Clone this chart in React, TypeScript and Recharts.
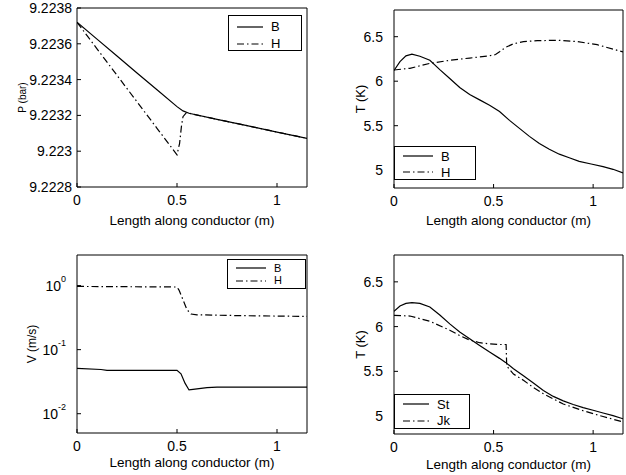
import React from "react";
import { LineChart, Line, XAxis, YAxis } from "recharts";

const FONT = '"Liberation Sans", Arial, Helvetica, sans-serif';
const DASHDOT = "7 3 1.5 3";

// shared x axis
const xTicks = [0, 0.5, 1];
const xDomain = [0, 1.15];

// top-left: pressure (bar)
const pTicks = [9.2228, 9.223, 9.2232, 9.2234, 9.2236, 9.2238];
const pBx = [0, 0.1, 0.2, 0.3, 0.4, 0.5, 0.53, 0.56, 0.7, 0.85, 1.0, 1.15];
const pB = [9.22372, 9.223626, 9.223532, 9.223437, 9.223343, 9.223249, 9.223225, 9.223212, 9.223178, 9.223143, 9.223107, 9.223072];
const pHx = [0, 0.1, 0.2, 0.3, 0.4, 0.5, 0.513, 0.522, 0.53, 0.547, 0.56, 0.7, 0.85, 1.0, 1.15];
const pH = [9.22372, 9.223572, 9.223424, 9.223276, 9.223128, 9.22298, 9.223044, 9.223137, 9.223193, 9.223215, 9.223212, 9.223178, 9.223143, 9.223107, 9.223072];

// top-right: temperature B / H
const tTicks = [5, 5.5, 6, 6.5];
const tBx = [0, 0.03, 0.06, 0.09, 0.13, 0.18, 0.23, 0.28, 0.33, 0.38, 0.43, 0.48, 0.53, 0.58, 0.63, 0.68, 0.73, 0.78, 0.83, 0.88, 0.93, 0.99, 1.05, 1.1, 1.15];
const tB = [6.12, 6.22, 6.285, 6.305, 6.28, 6.235, 6.13, 6.03, 5.93, 5.85, 5.79, 5.73, 5.66, 5.56, 5.47, 5.38, 5.3, 5.235, 5.18, 5.14, 5.1, 5.07, 5.04, 5.01, 4.97];
const tHx = [0, 0.08, 0.18, 0.28, 0.38, 0.48, 0.51, 0.53, 0.56, 0.6, 0.65, 0.72, 0.82, 0.92, 1.02, 1.1, 1.15];
const tH = [6.126, 6.145, 6.2, 6.235, 6.26, 6.285, 6.3, 6.33, 6.38, 6.42, 6.445, 6.455, 6.46, 6.445, 6.41, 6.36, 6.33];

// bottom-left: velocity (log)
const vTicks = [0.01, 0.1, 1];
const vBx = [0, 0.12, 0.15, 0.5, 0.52, 0.54, 0.56, 0.58, 0.65, 0.7, 1.15];
const vB = [0.051, 0.049, 0.0475, 0.0475, 0.042, 0.03, 0.0235, 0.024, 0.0255, 0.026, 0.026];
const vHx = [0, 0.5, 0.51, 0.53, 0.55, 0.57, 0.6, 0.8, 1.15];
const vH = [0.97, 0.95, 0.85, 0.6, 0.42, 0.36, 0.35, 0.34, 0.33];

// bottom-right: temperature St / Jk
const sx = [0, 0.03, 0.06, 0.09, 0.13, 0.18, 0.23, 0.28, 0.33, 0.38, 0.43, 0.48, 0.53, 0.56, 0.6, 0.65, 0.7, 0.75, 0.8, 0.85, 0.9, 0.95, 1.0, 1.05, 1.1, 1.15];
const st = [6.17, 6.23, 6.26, 6.268, 6.26, 6.22, 6.13, 6.03, 5.94, 5.865, 5.79, 5.715, 5.645, 5.6, 5.53, 5.45, 5.37, 5.285, 5.22, 5.17, 5.13, 5.095, 5.065, 5.035, 5.005, 4.97];
const jx = [0, 0.08, 0.18, 0.28, 0.33, 0.38, 0.43, 0.47, 0.52, 0.563, 0.566, 0.6, 0.65, 0.7, 0.75, 0.85, 0.95, 1.05, 1.15];
const jk = [6.126, 6.118, 6.06, 5.96, 5.9, 5.85, 5.82, 5.81, 5.8, 5.8, 5.56, 5.47, 5.4, 5.32, 5.25, 5.135, 5.06, 4.995, 4.935];

const zip = (xs: number[], ys: number[]) => xs.map((x, i) => ({ x, y: ys[i] }));

type Series = { name: string; data: { x: number; y: number }[]; dash?: string };

type PanelProps = {
  left: number;
  top: number;
  height: number;
  margin: { top: number; right: number; bottom: number; left: number };
  yWidth: number;
  xHeight: number;
  yGap: number;
  yDomain: number[];
  yTicks: number[];
  log?: boolean;
  yLabel: string;
  yLabelX: number;
  yLabelSize: number;
  xLabelOff: number;
  series: Series[];
  legend: { left: number; top: number; width: number; height: number; padTop: number; rowH: number; fontSize: number; textX: number };
};

const tickStyle = { fill: "#000", fontSize: 14, fontFamily: FONT };

function PowTick(props: any) {
  const { x, y, payload } = props;
  const exp = Math.round(Math.log10(payload.value));
  return (
    <text x={x} y={y} textAnchor="end" dominantBaseline="central" fontFamily={FONT} fontSize={14} fill="#000">
      10<tspan dy={-7} fontSize={9}>{exp}</tspan>
    </text>
  );
}

function Panel(p: PanelProps) {
  const scale = p.log ? "log" : "linear";
  return (
    <div style={{ position: "absolute", left: p.left, top: p.top, width: 313, height: p.height }}>
      <LineChart width={313} height={p.height} margin={p.margin}>
        <XAxis
          dataKey="x"
          type="number"
          domain={xDomain}
          ticks={xTicks}
          allowDataOverflow
          height={p.xHeight}
          stroke="#000"
          tickSize={-4}
          tickMargin={12}
          tick={tickStyle}
          label={(lp: any) => {
            const vb = lp.viewBox;
            return (
              <text x={vb.x + vb.width / 2} y={vb.y + p.xLabelOff} textAnchor="middle" dominantBaseline="central" fontFamily={FONT} fontSize={13.5} fill="#000">
                Length along conductor (m)
              </text>
            );
          }}
        />
        <XAxis xAxisId="t" orientation="top" type="number" domain={xDomain} ticks={xTicks} height={1} stroke="#000" tickSize={-4} tick={false} allowDataOverflow />
        <YAxis
          type="number"
          scale={scale}
          domain={p.yDomain}
          ticks={p.yTicks}
          allowDataOverflow
          width={p.yWidth}
          stroke="#000"
          tickSize={-4}
          tickMargin={4 + p.yGap}
          tick={p.log ? <PowTick /> : tickStyle}
          tickFormatter={(v: number) => String(+v.toFixed(4))}
          label={(lp: any) => {
            const vb = lp.viewBox;
            const cx = p.yLabelX;
            const cy = vb.y + vb.height / 2;
            return (
              <text x={cx} y={cy} transform={`rotate(-90 ${cx} ${cy})`} textAnchor="middle" dominantBaseline="central" fontFamily={FONT} fontSize={p.yLabelSize} fill="#000">
                {p.yLabel}
              </text>
            );
          }}
        />
        <YAxis yAxisId="r" orientation="right" type="number" scale={scale} domain={p.yDomain} ticks={p.yTicks} width={1} stroke="#000" tickSize={-4} tick={false} allowDataOverflow />
        {p.series.map((s) => (
          <Line
            key={s.name}
            data={s.data}
            dataKey="y"
            name={s.name}
            stroke="#000"
            strokeWidth={1.2}
            strokeDasharray={s.dash}
            dot={false}
            isAnimationActive={false}
            type="linear"
          />
        ))}
      </LineChart>
      <div
        style={{
          position: "absolute",
          left: p.legend.left,
          top: p.legend.top,
          width: p.legend.width,
          height: p.legend.height,
          border: "1px solid #000",
          background: "#fff",
          boxSizing: "border-box",
          paddingTop: p.legend.padTop,
          fontFamily: FONT,
          fontSize: p.legend.fontSize,
          overflow: "hidden",
        }}
      >
        {p.series.map((s) => (
          <div key={s.name} style={{ display: "flex", alignItems: "center", height: p.legend.rowH, lineHeight: 1 }}>
            <svg width={p.legend.textX} height={8} style={{ flex: "none" }}>
              <line x1={8} x2={p.legend.textX - 8} y1={4} y2={4} stroke="#000" strokeWidth={1.2} strokeDasharray={s.dash} />
            </svg>
            <span>{s.name}</span>
          </div>
        ))}
      </div>
    </div>
  );
}

export default function App() {
  return (
    <div style={{ position: "relative", width: 626, height: 475, background: "#fff", overflow: "hidden" }}>
      <style>{"body{margin:0}"}</style>
      <Panel
        left={0}
        top={0}
        height={237}
        margin={{ top: 7, right: 5, bottom: 0, left: 0 }}
        yWidth={77}
        xHeight={50}
        yGap={5}
        yDomain={[9.2228, 9.2238]}
        yTicks={pTicks}
        yLabel="P (bar)"
        yLabelX={22}
        yLabelSize={10}
        xLabelOff={33}
        series={[
          { name: "B", data: zip(pBx, pB) },
          { name: "H", data: zip(pHx, pH), dash: DASHDOT },
        ]}
        legend={{ left: 228, top: 15, width: 74, height: 36, padTop: 2, rowH: 17, fontSize: 13, textX: 42 }}
      />
      <Panel
        left={313}
        top={0}
        height={237}
        margin={{ top: 9, right: 2, bottom: 0, left: 0 }}
        yWidth={81}
        xHeight={49}
        yGap={11}
        yDomain={[4.8, 6.8]}
        yTicks={tTicks}
        yLabel="T (K)"
        yLabelX={47}
        yLabelSize={13}
        xLabelOff={32}
        series={[
          { name: "B", data: zip(tBx, tB) },
          { name: "H", data: zip(tHx, tH), dash: DASHDOT },
        ]}
        legend={{ left: 81, top: 146, width: 82, height: 34, padTop: 1, rowH: 16, fontSize: 13, textX: 46 }}
      />
      <Panel
        left={0}
        top={237}
        height={238}
        margin={{ top: 17, right: 5, bottom: 0, left: 0 }}
        yWidth={77}
        xHeight={42}
        yGap={11}
        yDomain={[0.005, 3]}
        yTicks={vTicks}
        log
        yLabel="V (m/s)"
        yLabelX={32}
        yLabelSize={12}
        xLabelOff={29}
        series={[
          { name: "B", data: zip(vBx, vB) },
          { name: "H", data: zip(vHx, vH), dash: DASHDOT },
        ]}
        legend={{ left: 227, top: 22, width: 79, height: 30, padTop: 2, rowH: 12.5, fontSize: 11, textX: 46 }}
      />
      <Panel
        left={313}
        top={237}
        height={238}
        margin={{ top: 17, right: 2, bottom: 0, left: 0 }}
        yWidth={81}
        xHeight={41}
        yGap={11}
        yDomain={[4.8, 6.8]}
        yTicks={tTicks}
        yLabel="T (K)"
        yLabelX={47}
        yLabelSize={13}
        xLabelOff={30}
        series={[
          { name: "St", data: zip(sx, st) },
          { name: "Jk", data: zip(jx, jk), dash: DASHDOT },
        ]}
        legend={{ left: 81, top: 157, width: 76, height: 35, padTop: 1, rowH: 16.5, fontSize: 13, textX: 42 }}
      />
    </div>
  );
}
